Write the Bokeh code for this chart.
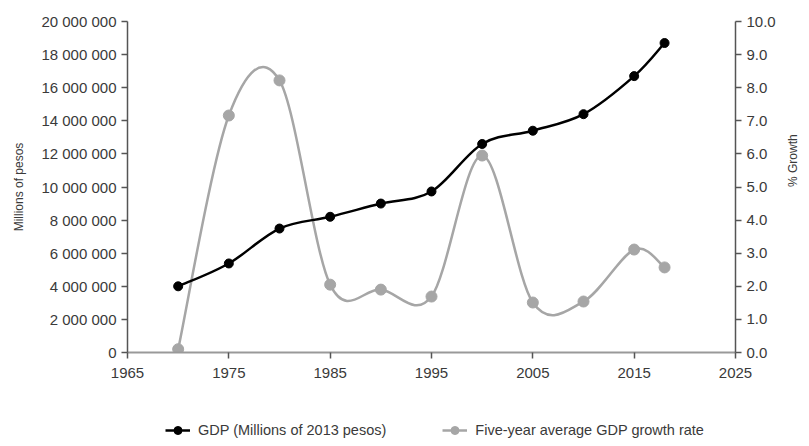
import math
from bokeh.plotting import figure
from bokeh.layouts import column
from bokeh.models import (Range1d, LinearAxis, FixedTicker, CustomJSTickFormatter,
                          NumeralTickFormatter, ColumnDataSource, Legend, LegendItem)
from bokeh.embed import file_html
from bokeh.resources import INLINE

# ---- data ----
years = [1970, 1975, 1980, 1985, 1990, 1995, 2000, 2005, 2010, 2015, 2018]
gdp = [4.0e6, 5.38e6, 7.49e6, 8.2e6, 9.0e6, 9.73e6, 12.6e6, 13.4e6, 14.4e6, 16.7e6, 18.7e6]
growth = [0.1, 7.16, 8.22, 2.05, 1.9, 1.69, 5.95, 1.51, 1.54, 3.11, 2.57]
x_ticks = [1965, 1975, 1985, 1995, 2005, 2015, 2025]
gdp_ticks = [0, 2e6, 4e6, 6e6, 8e6, 10e6, 12e6, 14e6, 16e6, 18e6, 20e6]
growth_ticks = [0, 1, 2, 3, 4, 5, 6, 7, 8, 9, 10]
labels = ["GDP (Millions of 2013 pesos)", "Five-year average GDP growth rate"]

FONT = "Liberation Sans"
TXT = "#3a3a3a"
BLACK = "#000000"
GREY = "#A6A6A6"


def smooth_source(xs, ys):
    """Bezier segments (Catmull-Rom style control points) through the data points."""
    n = len(xs)
    d = dict(x0=[], y0=[], x1=[], y1=[], cx0=[], cy0=[], cx1=[], cy1=[])
    for i in range(n - 1):
        x0, y0 = xs[i], ys[i]
        x1, y1 = xs[i + 1], ys[i + 1]
        xp, yp = (xs[i - 1], ys[i - 1]) if i > 0 else (x0, y0)
        xn, yn = (xs[i + 2], ys[i + 2]) if i + 2 < n else (x1, y1)
        d["x0"].append(x0); d["y0"].append(y0)
        d["x1"].append(x1); d["y1"].append(y1)
        d["cx0"].append(x0 + (x1 - xp) / 6); d["cy0"].append(y0 + (y1 - yp) / 6)
        d["cx1"].append(x1 - (xn - x0) / 6); d["cy1"].append(y1 - (yn - y0) / 6)
    return ColumnDataSource(d)


p = figure(width=809, height=400, output_backend="svg", toolbar_location=None,
           x_range=Range1d(1965, 2025), y_range=Range1d(0, 20e6),
           min_border_left=127, min_border_right=71, min_border_top=21, min_border_bottom=48)
p.extra_y_ranges = {"growth": Range1d(0, 10)}
p.grid.visible = False
p.outline_line_color = None
p.background_fill_color = "white"
p.border_fill_color = "white"

# axes
p.xaxis.ticker = FixedTicker(ticks=x_ticks)
p.yaxis.ticker = FixedTicker(ticks=gdp_ticks)
p.yaxis.formatter = CustomJSTickFormatter(
    code="return tick.toFixed(0).replace(/\\B(?=(\\d{3})+(?!\\d))/g, ' ');")
p.yaxis.axis_label = "Millions of pesos"

raxis = LinearAxis(y_range_name="growth", ticker=FixedTicker(ticks=growth_ticks),
                   formatter=NumeralTickFormatter(format="0.0"), axis_label="% Growth")
p.add_layout(raxis, "right")
if "axis_label_orientation" in raxis.properties():
    raxis.axis_label_orientation = math.pi / 2

for ax in [p.xaxis[0], p.yaxis[0], raxis]:
    ax.major_label_text_font = FONT
    ax.major_label_text_font_size = "15px"
    ax.major_label_text_color = TXT
    ax.axis_label_text_font = FONT
    ax.axis_label_text_font_size = "12px"
    ax.axis_label_text_font_style = "normal"
    ax.axis_label_text_color = TXT
    ax.minor_tick_line_color = None
    ax.major_tick_in = 0
    ax.major_tick_out = 6
    ax.major_tick_line_color = "#555555"
    ax.major_tick_line_width = 1.5
    ax.axis_line_color = "#555555"
    ax.axis_line_width = 1.5
    ax.major_label_standoff = 5

p.xaxis.axis_line_color = "#999999"
p.xaxis.axis_line_width = 2
p.xaxis.major_label_standoff = 9
p.yaxis.axis_label_standoff = 12
raxis.axis_label_standoff = 14

# series
src_gdp = smooth_source(years, gdp)
src_gr = smooth_source(years, growth)

p.bezier(x0="x0", y0="y0", x1="x1", y1="y1", cx0="cx0", cy0="cy0", cx1="cx1", cy1="cy1",
         source=src_gr, line_color=GREY, line_width=2.5, y_range_name="growth")
p.scatter(years, growth, size=11, color=GREY, y_range_name="growth")

p.bezier(x0="x0", y0="y0", x1="x1", y1="y1", cx0="cx0", cy0="cy0", cx1="cx1", cy1="cy1",
         source=src_gdp, line_color=BLACK, line_width=2.5)
p.scatter(years, gdp, size=9, color=BLACK)

# ---- legend strip below the chart ----
lg = figure(width=809, height=46, output_backend="svg", toolbar_location=None,
            x_range=Range1d(0, 1), y_range=Range1d(0, 1), x_axis_type=None, y_axis_type=None,
            min_border=0)
lg.grid.visible = False
lg.outline_line_color = None
lg.background_fill_color = "white"
lg.border_fill_color = "white"
# proxy glyphs placed outside the visible range; only their legend swatches show
l1 = lg.line([5, 6], [5, 6], line_color=BLACK, line_width=2.5)
s1 = lg.scatter([5], [5], size=9, color=BLACK)
l2 = lg.line([5, 6], [5, 6], line_color=GREY, line_width=2.5)
s2 = lg.scatter([5], [5], size=11, color=GREY)

legend = Legend(items=[LegendItem(label=labels[0], renderers=[l1, s1]),
                       LegendItem(label=labels[1], renderers=[l2, s2])],
                orientation="horizontal", location=(38, 6),
                label_text_font=FONT, label_text_font_size="14.5px", label_text_color=TXT,
                border_line_color=None, background_fill_alpha=0,
                glyph_width=25, label_standoff=8, spacing=56, padding=0, margin=0)
lg.add_layout(legend, "center")

layout = column(p, lg, spacing=0)
open("out.html", "w").write(file_html(layout, INLINE))
